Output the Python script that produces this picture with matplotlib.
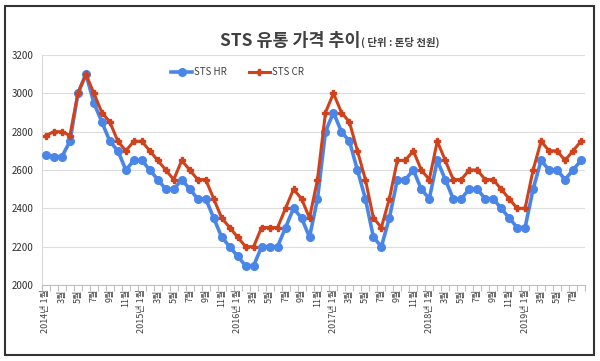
import matplotlib.pyplot as plt
from matplotlib.patches import Rectangle

plt.rcParams['font.family'] = ['Noto Sans CJK KR', 'DejaVu Sans']

# 월별 데이터 (2014년 1월 ~ 2019년 8월)
years = [2014, 2015, 2016, 2017, 2018, 2019]
last_month = 8

sts_hr = [2680, 2670, 2670, 2750, 3000, 3100, 2950, 2850, 2750, 2700, 2600, 2650,
          2650, 2600, 2550, 2500, 2500, 2550, 2500, 2450, 2450, 2350, 2250, 2200,
          2150, 2100, 2100, 2200, 2200, 2200, 2300, 2400, 2350, 2250, 2450, 2800,
          2900, 2800, 2750, 2600, 2450, 2250, 2200, 2350, 2550, 2550, 2600, 2500,
          2450, 2650, 2550, 2450, 2450, 2500, 2500, 2450, 2450, 2400, 2350, 2300,
          2300, 2500, 2650, 2600, 2600, 2550, 2600, 2650]
sts_cr = [2780, 2800, 2800, 2780, 3000, 3100, 3000, 2900, 2850, 2750, 2700, 2750,
          2750, 2700, 2650, 2600, 2550, 2650, 2600, 2550, 2550, 2450, 2350, 2300,
          2250, 2200, 2200, 2300, 2300, 2300, 2400, 2500, 2450, 2350, 2550, 2900,
          3000, 2900, 2850, 2700, 2550, 2350, 2300, 2450, 2650, 2650, 2700, 2600,
          2550, 2750, 2650, 2550, 2550, 2600, 2600, 2550, 2550, 2500, 2450, 2400,
          2400, 2600, 2750, 2700, 2700, 2650, 2700, 2750]

# x축 라벨
labels = []
for y in years:
    for m in range(1, 13):
        if y == years[-1] and m > last_month:
            break
        if m == 1:
            labels.append('%d년 1월' % y)
        else:
            labels.append('%d월' % m)

x = list(range(len(labels)))

fig = plt.figure(figsize=(6, 3.61), dpi=100)
ax = fig.add_axes([42/600, 1-285/361, 543/600, 230/361])

blue = '#4a86e8'
red = '#d0421b'
ax.plot(x, sts_hr, color=blue, lw=2.6, marker='o', ms=5.5, label='STS HR', zorder=3)
ax.plot(x, sts_cr, color=red, lw=2.2, marker='P', ms=4, label='STS CR', zorder=4)

ax.set_ylim(2000, 3200)
ax.set_yticks(range(2000, 3201, 200))
ax.set_xlim(-0.5, len(x) - 0.5)

# 눈금: 홀수 월마다 라벨, 매월 눈금선
ax.set_xticks(x[::2])
ax.set_xticklabels(labels[::2], rotation=90, fontsize=6.5, color='#404040')
ax.set_xticks([i - 0.5 for i in range(len(x) + 1)], minor=True)
ax.tick_params(axis='x', which='major', length=0, pad=3)
ax.tick_params(axis='x', which='minor', length=4, color='#bfbfbf', width=0.8)
ax.tick_params(axis='y', length=0, labelsize=7, labelcolor='#303030', pad=6)

ax.grid(axis='y', color='#dddddd', lw=0.8)
ax.set_axisbelow(True)
for s in ['top', 'right']:
    ax.spines[s].set_visible(False)
ax.spines['left'].set_color('#d9d9d9')
ax.spines['bottom'].set_color('#bfbfbf')

ax.legend(loc='center', bbox_to_anchor=(0.36, 0.925), ncol=2, frameon=False,
          fontsize=7, handlelength=2.2, handletextpad=0.2, columnspacing=2.2,
          labelcolor='#404040')

# 제목
fig.text(360/600, 1-46/361, 'STS 유통 가격 추이', ha='right', va='baseline',
         fontsize=12.5, fontweight='bold', color='#404040')
fig.text(361/600, 1-46/361, '( 단위 : 톤당 천원)', ha='left', va='baseline',
         fontsize=7.5, fontweight='bold', color='#404040')

# 바깥 테두리
fig.patches.append(Rectangle((5/600, 6/361), 589/600, 349/361, transform=fig.transFigure,
                             fill=False, edgecolor='#333333', lw=1.5))

fig.savefig('out.png', dpi=100)
